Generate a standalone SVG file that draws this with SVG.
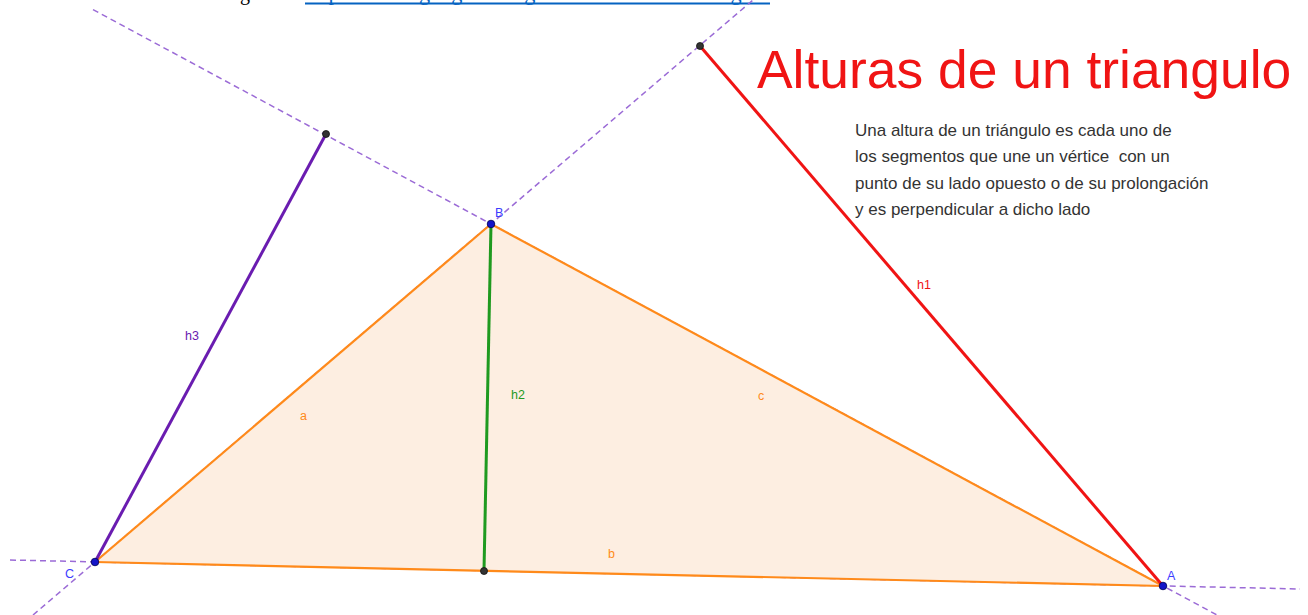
<svg xmlns="http://www.w3.org/2000/svg" width="1308" height="615" viewBox="0 0 1308 615">
<style>
.dash{stroke:#9b6bd6;stroke-width:1.5;stroke-dasharray:6 4;fill:none}
.side{stroke:#ff8a1a;stroke-width:2.2;fill:none}
.lbl{font-family:"Liberation Sans",Arial,sans-serif;font-size:12.5px}
.pt{fill:#1414c8;stroke:#000050;stroke-width:0.8}
.ft{fill:#333;stroke:#111;stroke-width:0.8}
.para{font-family:"Liberation Sans",Arial,sans-serif;font-size:17px;fill:#333;white-space:pre}
</style>
<rect width="1308" height="615" fill="#fff"/>
<g id="header">
<text x="209" y="0" font-family="Liberation Serif,serif" font-size="20" fill="#000">Imagen:</text>
<text x="305" y="0" font-family="Liberation Serif,serif" font-size="20" fill="#0563c1" textLength="465" lengthAdjust="spacingAndGlyphs">https://www.geogebra.org/m/alturas-de-un-triangulo</text>
<line x1="305" y1="3.5" x2="770" y2="3.5" stroke="#0563c1" stroke-width="2"/>
</g>
<g id="connectors">
<line class="dash" x1="33" y1="615" x2="753" y2="0"/>
<line class="dash" x1="93" y1="9.6" x2="1217" y2="615"/>
<line class="dash" x1="10" y1="560" x2="1300" y2="589"/>
</g>
<g id="triangle">
<polygon points="95,562 491,224 1163,586" fill="#fdeee1" stroke="none"/>
<line class="side" x1="95" y1="562" x2="491" y2="224"/>
<line class="side" x1="491" y1="224" x2="1163" y2="586"/>
<line class="side" x1="95" y1="562" x2="1163" y2="586"/>
<text class="lbl" x="300" y="420" fill="#ff8a1a">a</text>
<text class="lbl" x="758" y="400" fill="#ff8a1a">c</text>
<text class="lbl" x="608" y="558" fill="#ff8a1a">b</text>
</g>
<g id="h2">
<line x1="491" y1="224" x2="484" y2="571" stroke="#1f9a1f" stroke-width="3"/>
<text class="lbl" x="511" y="399" fill="#1f9a1f">h2</text>
</g>
<g id="h1">
<line x1="700" y1="46" x2="1163" y2="586" stroke="#f01414" stroke-width="3"/>
<text class="lbl" x="917" y="289" fill="#f01414">h1</text>
</g>
<g id="h3">
<line x1="95" y1="562" x2="326" y2="134" stroke="#6a1cb0" stroke-width="3"/>
<text class="lbl" x="185" y="340" fill="#6a1cb0">h3</text>
</g>
<g id="feet">
<circle class="ft" cx="484" cy="571" r="3.5"/>
<circle class="ft" cx="700" cy="46" r="3.5"/>
<circle class="ft" cx="326" cy="134" r="3.5"/>
</g>
<g id="pointA">
<circle class="pt" cx="1163" cy="586" r="3.8"/>
<text class="lbl" x="1167" y="580" fill="#3c3cff">A</text>
</g>
<g id="pointB">
<circle class="pt" cx="491" cy="224" r="3.8"/>
<text class="lbl" x="495" y="217" fill="#3c3cff">B</text>
</g>
<g id="pointC">
<circle class="pt" cx="95" cy="562" r="3.8"/>
<text class="lbl" x="65" y="578" fill="#3c3cff">C</text>
</g>
<g id="title">
<text x="757" y="88" font-family="Liberation Sans,Arial,sans-serif" font-size="53.4" fill="#f01414">Alturas de un triangulo</text>
</g>
<g id="description">
<text class="para" x="855" y="136">Una altura de un triángulo es cada uno de</text>
<text class="para" x="855" y="162">los segmentos que une un vértice  con un</text>
<text class="para" x="855" y="189">punto de su lado opuesto o de su prolongación</text>
<text class="para" x="855" y="215">y es perpendicular a dicho lado</text>
</g>
</svg>
